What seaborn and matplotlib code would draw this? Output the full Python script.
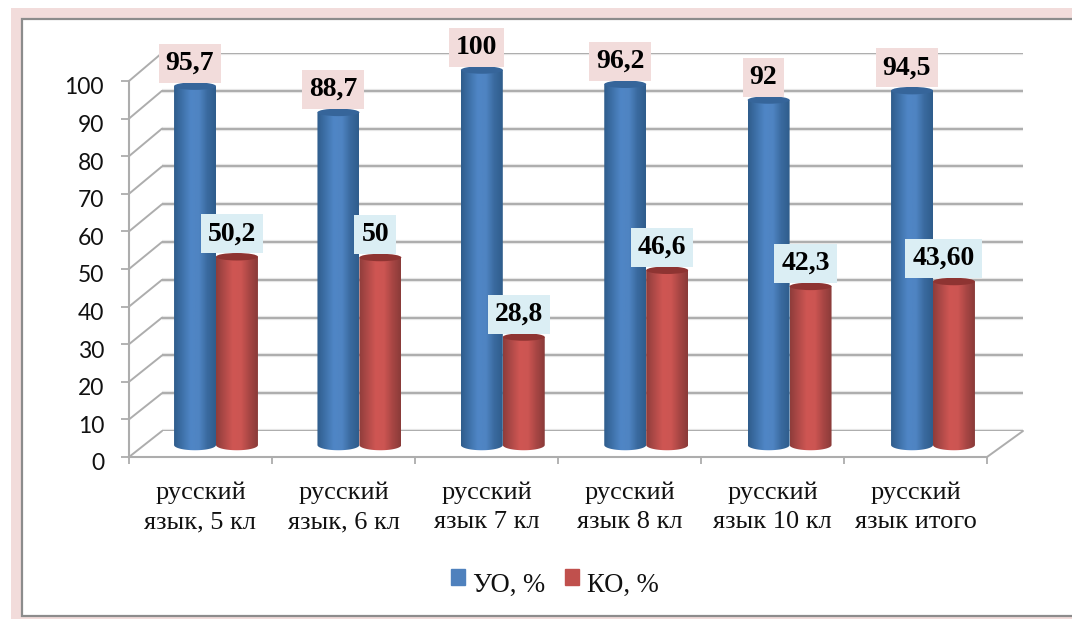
"""Russian language results by class: cylinder-style grouped bars on a fake 3D box."""

import numpy as np
import pandas as pd
import matplotlib
matplotlib.use("Agg")
import matplotlib.pyplot as plt
import matplotlib.patheffects as pe
from matplotlib.colors import LinearSegmentedColormap
from matplotlib.patches import ConnectionPatch, Ellipse, Polygon, Rectangle
from matplotlib.transforms import ScaledTranslation
import seaborn as sns

# -- Data -----------------------------------------------------------------------
CATEGORIES = ["русский\nязык, 5 кл", "русский\nязык, 6 кл", "русский\nязык 7 кл",
              "русский\nязык 8 кл", "русский\nязык 10 кл", "русский\nязык итого"]
UO_VALUES = [95.7, 88.7, 100, 96.2, 92, 94.5]
KO_VALUES = [50.2, 50, 28.8, 46.6, 42.3, 43.6]
UO_LABELS = ["95,7", "88,7", "100", "96,2", "92", "94,5"]
KO_LABELS = ["50,2", "50", "28,8", "46,6", "42,3", "43,60"]
SERIES = ["УО, %", "КО, %"]
Y_TICKS = list(range(0, 101, 10))

# -- Style ----------------------------------------------------------------------
W, H = 1072, 619
GRID = "#adadad"
PINK = "#f2dcdb"
PALE_BLUE = "#dbeef4"
SERIF = "Liberation Serif"
BLUE_RAMP = ["#2f5d8c", "#3f72aa", "#4f86c6", "#4f84c2", "#3a6a9f", "#2f5d8c"]
RED_RAMP = ["#8f3d3b", "#b04a48", "#cf5653", "#cc5552", "#a84644", "#8a3b39"]
CAP_COLORS = ["#36659a", "#8e3432"]

sns.set_theme(style="white")


def px_axes(fig, left, right, top, bottom, **kw):
    """Axes placed by pixel edges of the 1072x619 picture."""
    return fig.add_axes([left / W, 1 - bottom / H, (right - left) / W, (bottom - top) / H], **kw)


fig = plt.figure(figsize=(W / 100, H / 100), dpi=100, facecolor="white")

# -- Page frame -----------------------------------------------------------------
page = px_axes(fig, 0, W, 0, H, zorder=0)
page.set_xlim(0, W)
page.set_ylim(H, 0)
page.axis("off")
page.add_patch(Rectangle((11, 8), W, H, color=PINK, lw=0))
page.add_patch(Rectangle((22, 19), W, 597, facecolor="white", edgecolor="#8c8c8c", lw=1.6))

# -- Back wall and front axis ---------------------------------------------------
back = px_axes(fig, 162, 1023, 53, 431, zorder=1)
back.patch.set_alpha(0)
back.set_xlim(0, 6)
back.set_ylim(0, 100)
back.set_xticks([])
back.set_yticks(Y_TICKS)
back.tick_params(left=False, labelleft=False)
back.grid(axis="y", color=GRID, lw=1.4,
          path_effects=[pe.withStroke(linewidth=3, foreground="#e6e6e6")])
sns.despine(ax=back, left=True, bottom=True)

front = px_axes(fig, 129, 987, 81, 457, zorder=1)
front.patch.set_alpha(0)
front.set_xlim(0, 6)
front.set_ylim(0, 100)
front.set_yticks(Y_TICKS)
front.set_xticks(range(7))
front.set_xticks(np.arange(6) + 0.5, minor=True)
front.set_xticklabels([])
front.set_xticklabels(CATEGORIES, minor=True, fontfamily=SERIF, fontsize=19, color="#111111",
                      linespacing=1.43)
front.tick_params(axis="x", which="major", length=5, width=1.3, color=GRID, bottom=True)
front.tick_params(axis="x", which="minor", length=0, pad=17.5, bottom=False)
front.tick_params(axis="y", length=6, width=1.3, color=GRID, left=True, pad=12)
label_down = ScaledTranslation(0, -5 / 100, fig.dpi_scale_trans)
for lab in front.get_yticklabels():
    lab.set_fontfamily("Lato")
    lab.set_fontsize(16.5)
    lab.set_color("#111111")
    lab.set_transform(lab.get_transform() + label_down)
sns.despine(ax=front)
for side in ("left", "bottom"):
    front.spines[side].set_color(GRID)
    front.spines[side].set_linewidth(1.5)

for v in Y_TICKS:
    fig.add_artist(ConnectionPatch((0, v), (0, v), coordsA=front.transData, coordsB=back.transData,
                                   color=GRID, lw=1.4, zorder=1.5))
fig.add_artist(ConnectionPatch((6, 0), (6, 0), coordsA=front.transData, coordsB=back.transData,
                               color=GRID, lw=1.4, zorder=1.5))

# -- Bars -----------------------------------------------------------------------
df = pd.DataFrame({
    "category": CATEGORIES * 2,
    "value": UO_VALUES + KO_VALUES,
    "series": [SERIES[0]] * 6 + [SERIES[1]] * 6,
})

ax = px_axes(fig, 144.3, 1004.7, 32.5, 460, zorder=3)
ax.patch.set_alpha(0)
sns.barplot(data=df, x="category", y="value", hue="series", palette=["#4f81bd", "#c0504d"],
            width=0.585, gap=0, saturation=1, ax=ax, legend=False)

CAP_H = 2.0  # ellipse height in value units
for s, container in enumerate(ax.containers):
    cmap = LinearSegmentedColormap.from_list("cyl", [BLUE_RAMP, RED_RAMP][s])
    for bar in container:
        x, w, top = bar.get_x(), bar.get_width(), bar.get_height()
        bar.set_visible(False)
        t = np.linspace(0, np.pi, 40)
        cx = x + w / 2
        arc_x = cx + w / 2 * np.cos(t)
        arc_y = CAP_H * 0.7 * np.sin(t)
        outline = np.r_[np.c_[arc_x, -arc_y], [[x, top], [x + w, top]]]
        im = ax.imshow(np.linspace(0, 1, 64)[None, :], cmap=cmap, aspect="auto",
                       extent=(x, x + w, -CAP_H, top + CAP_H), zorder=2 + s)
        im.set_clip_path(Polygon(outline, transform=ax.transData))
        ax.add_patch(Ellipse((cx, top), w, CAP_H, color=CAP_COLORS[s], lw=0, zorder=2.5 + s))
ax.set_xlim(-0.5, 5.5)
ax.set_ylim(-4, 110)
ax.axis("off")

# -- Value labels ---------------------------------------------------------------
for container, labels, box in zip(ax.containers, [UO_LABELS, KO_LABELS], [PINK, PALE_BLUE]):
    for bar, text in zip(container, labels):
        shift = -7.5 if text == "43,60" else -3.7
        ax.annotate(text, (bar.get_x() + bar.get_width() / 2, bar.get_height()),
                    xytext=(shift, 16.5), textcoords="offset points", ha="center", va="center",
                    fontfamily=SERIF, fontweight="bold", fontsize=20, color="black", zorder=6,
                    annotation_clip=False,
                    bbox=dict(boxstyle="square,pad=0.25", facecolor=box, edgecolor="none"))

# -- Legend ---------------------------------------------------------------------
handles = [Rectangle((0, 0), 1, 1, color=c) for c in ("#4f81bd", "#c0504d")]
leg = fig.legend(handles, SERIES, loc="center", bbox_to_anchor=(555 / W, 1 - 585 / H), ncol=2, frameon=False,
                 prop={"family": SERIF, "size": 19.2}, handlelength=0.52, handleheight=0.52,
                 handletextpad=0.3, columnspacing=0.75, labelcolor="#111111")
for patch in leg.legend_handles:
    patch.set_y(patch.get_y() + 3.5)

fig.savefig("out.png", dpi=100)
